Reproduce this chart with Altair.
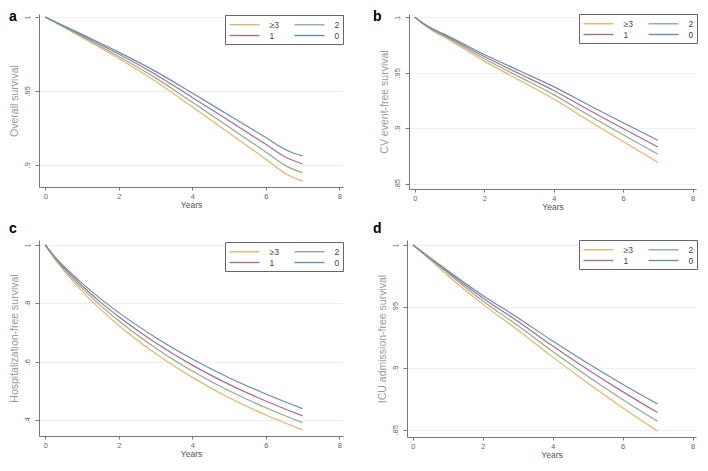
import altair as alt
import pandas as pd

# legend order (reference rows: ≥3, 2 / 1, 0; the legend fills column-wise)
groups = ["≥3", "1", "2", "0"]
colors = ["#E6B46C", "#A66F90", "#8DAF8F", "#6A8DAE"]

# Panel a: overall survival
a_years = [0, 1, 2, 3, 4, 5, 6, 6.6, 7]
a_ge3 = [1, 0.9861, 0.9719, 0.9565, 0.9392, 0.9215, 0.9038, 0.8931, 0.8890]
a_2 = [1, 0.9868, 0.9733, 0.9588, 0.9423, 0.9255, 0.9087, 0.8986, 0.8947]
a_1 = [1, 0.9875, 0.9749, 0.9611, 0.9456, 0.9298, 0.9139, 0.9044, 0.9007]
a_0 = [1, 0.9882, 0.9762, 0.9632, 0.9485, 0.9335, 0.9185, 0.9095, 0.9060]

# Panel b: CV event-free survival
b_years = [0, 0.25, 0.5, 1, 2, 3, 4, 5, 6, 7]
b_ge3 = [1, 0.9935, 0.9882, 0.9794, 0.9605, 0.9434, 0.9263, 0.9069, 0.8880, 0.8694]
b_2 = [1, 0.9939, 0.9888, 0.9805, 0.9626, 0.9465, 0.9303, 0.9119, 0.8941, 0.8765]
b_1 = [1, 0.9942, 0.9894, 0.9815, 0.9646, 0.9493, 0.9340, 0.9166, 0.8997, 0.8830]
b_0 = [1, 0.9945, 0.9900, 0.9825, 0.9665, 0.9520, 0.9375, 0.9210, 0.9050, 0.8892]

# Panel c: hospitalization-free survival
c_years = [0, 0.25, 0.5, 1, 1.5, 2, 3, 4, 5, 6, 7]
c_ge3 = [1, 0.953, 0.913, 0.842, 0.780, 0.724, 0.628, 0.546, 0.476, 0.417, 0.366]
c_2 = [1, 0.956, 0.918, 0.852, 0.793, 0.740, 0.647, 0.568, 0.500, 0.442, 0.391]
c_1 = [1, 0.958, 0.923, 0.860, 0.804, 0.754, 0.665, 0.588, 0.522, 0.465, 0.414]
c_0 = [1, 0.961, 0.928, 0.869, 0.816, 0.768, 0.683, 0.609, 0.545, 0.489, 0.439]

# Panel d: ICU admission-free survival
d_years = [0, 0.5, 1, 2, 3, 4, 5, 6, 7]
d_ge3 = [1, 0.9877, 0.975, 0.952, 0.931, 0.909, 0.888, 0.868, 0.849]
d_2 = [1, 0.9884, 0.977, 0.9545, 0.9346, 0.9135, 0.8935, 0.8747, 0.857]
d_1 = [1, 0.9890, 0.978, 0.957, 0.938, 0.918, 0.899, 0.881, 0.864]
d_0 = [1, 0.9895, 0.979, 0.959, 0.941, 0.922, 0.904, 0.887, 0.871]

x_ticks = [0, 2, 4, 6, 8]
FONT = "Liberation Sans"
LEGEND_W = 116


def panel(years, series, ytitle, ydomain, yticks, width, height, letter, lx, ly, lgx, lgy):
    rows = []
    for g, vals in zip(groups, series):
        for t, v in zip(years, vals):
            rows.append({"t": t, "s": v, "g": g})
    df = pd.DataFrame(rows)
    lines = alt.Chart(df).mark_line(strokeWidth=1.2, interpolate="monotone").encode(
        x=alt.X("t:Q",
                scale=alt.Scale(domain=[-0.17, 8.1], nice=False, zero=False),
                axis=alt.Axis(values=x_ticks, title="Years", grid=False,
                              labelFontSize=7.5, labelPadding=2, tickSize=3,
                              titleFontSize=8.5, titlePadding=1, titleColor="#555555",
                              titleFontWeight="normal", labelFlush=False, labelOverlap=False)),
        y=alt.Y("s:Q",
                scale=alt.Scale(domain=ydomain, nice=False, zero=False),
                axis=alt.Axis(values=yticks, title=ytitle, grid=True,
                              labelExpr="datum.value >= 1 ? '1' : substring(format(datum.value, '.2~f'), 1)",
                              labelAngle=270, labelAlign="center", labelBaseline="bottom",
                              labelFontSize=7.5, labelPadding=4, tickSize=4,
                              titleFontSize=10.5, titlePadding=4, titleColor="#9a9a9a",
                              titleFontWeight="normal", labelFlush=False, labelOverlap=False)),
        color=alt.Color("g:N", sort=groups,
                        scale=alt.Scale(domain=groups, range=colors),
                        legend=alt.Legend(title=None, orient="none",
                                          legendX=width - LEGEND_W + lgx, legendY=lgy,
                                          columns=2,
                                          symbolType="M-1,0H5", symbolSize=100,
                                          symbolStrokeWidth=1.4, labelFontSize=8.5,
                                          labelFont=FONT, labelColor="#444444",
                                          labelOffset=29, columnPadding=12, rowPadding=0,
                                          padding=3.5, strokeColor="#666666",
                                          fillColor="white", cornerRadius=0)),
    )
    lab = alt.Chart(pd.DataFrame({"l": [letter]})).mark_text(
        align="left", baseline="alphabetic", fontSize=14, fontWeight="bold",
        font=FONT, color="black"
    ).encode(text="l:N", x=alt.value(lx), y=alt.value(ly))
    return alt.layer(lines, lab).properties(width=width, height=height)


pa = panel(a_years, [a_ge3, a_1, a_2, a_0], "Overall survival", [0.885, 1.002],
           [0.9, 0.95, 1], 304, 173, "a", -30, 7, -2, 1)
pb = panel(b_years, [b_ge3, b_1, b_2, b_0], "CV event-free survival", [0.8452, 1.003],
           [0.85, 0.9, 0.95, 1], 287, 175, "b", -36, 7, -1, 0)
pc = panel(c_years, [c_ge3, c_1, c_2, c_0], "Hospitalization-free survival", [0.345, 1.017],
           [0.4, 0.6, 0.8, 1], 304, 196, "c", -30, -7, -2, 2)
pd_ = panel(d_years, [d_ge3, d_1, d_2, d_0], "ICU admission-free survival", [0.8442, 1.004],
            [0.85, 0.9, 0.95, 1], 289, 197, "d", -34, -7, -1, 0)

top = alt.hconcat(pa, pb, spacing=29).resolve_scale(color="independent").resolve_legend(color="independent")
bottom = alt.hconcat(pc, pd_, spacing=29).resolve_scale(color="independent").resolve_legend(color="independent")

chart = alt.vconcat(top, bottom, spacing=11).resolve_scale(color="independent").resolve_legend(
    color="independent"
).properties(padding={"left": 0, "top": 2, "right": 0, "bottom": 0}).configure_view(
    stroke=None
).configure_axis(
    domainColor="#777777", tickColor="#777777", labelColor="#666666",
    labelFont=FONT, titleFont=FONT, gridColor="#efefef", gridWidth=1, domainWidth=1
)

chart.save("out.html", embed_options={"renderer": "svg", "actions": False})
